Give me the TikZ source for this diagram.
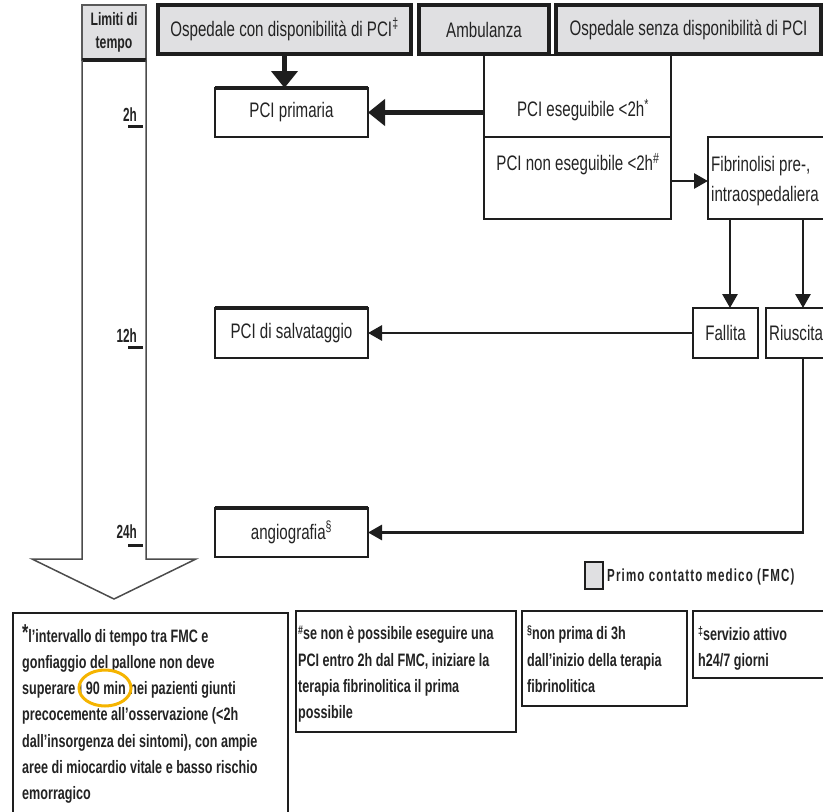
\documentclass[tikz,border=0pt]{standalone}
\usepackage{fontspec}
\setmainfont{Liberation Sans}
\newfontfamily\cnd{Liberation Sans}[FakeStretch=0.72]
\newfontfamily\cndb{Liberation Sans}[FakeStretch=0.70]
\newfontfamily\cndh{Liberation Sans}[FakeStretch=0.68]
\newfontfamily\cndn{Liberation Sans}[FakeStretch=0.62]
\newfontfamily\cndbs{Liberation Sans}[FakeStretch=0.66,LetterSpace=6.5]
\usetikzlibrary{arrows.meta}
\definecolor{boxgray}{RGB}{224,224,226}
\definecolor{linec}{RGB}{30,30,30}
\definecolor{ringc}{RGB}{245,180,0}
\definecolor{txtc}{RGB}{35,35,35}
\newcommand{\fnsup}[1]{\raisebox{5pt}{\fontsize{12.5}{12.5}\selectfont #1}}
\begin{document}
\begin{tikzpicture}[x=1pt,y=-1pt,
  box/.style={draw=linec, line width=2.6pt, inner sep=0pt, outer sep=0pt, text=txtc,
    font=\cnd\fontsize{21}{22}\selectfont},
  fmc/.style={box, fill=boxgray, line width=3.2pt},
  plain/.style={draw=linec, line width=2.6pt, inner sep=0pt, outer sep=0pt},
  txt/.style={inner sep=0pt, text=txtc, font=\cnd\fontsize{21}{30}\selectfont},
  fntext/.style={inner sep=0pt, anchor=north west, align=left, text=txtc,
    font=\cndb\bfseries\fontsize{18}{26.3}\selectfont},
  timelbl/.style={inner sep=0pt, anchor=base east, text=txtc, font=\cndn\bfseries\fontsize{19}{19}\selectfont},
  tickln/.style={line width=3pt, draw=linec},
  bigarrow/.style={draw=linec, line width=5pt, -{Triangle[length=17pt,width=26pt]}},
  arr/.style={draw=linec, line width=2.8pt, -{Triangle[length=14pt,width=15pt]}},
  topline/.style={line width=4pt, draw=linec}
]
\useasboundingbox (0,0) rectangle (823,812);
\clip (0,0) rectangle (823,812);

% time column
\node[fmc, line width=1.5pt, draw=gray!70!black, minimum width=64pt, minimum height=55pt, align=center,
  font=\cndh\bfseries\fontsize{18}{23}\selectfont] (hdr) at (114,32.5) {Limiti di\\tempo};
\draw[line width=4pt, draw=linec] (hdr.south west) -- (hdr.south east);
\coordinate (apex) at (114,599);
\draw[line width=1.5pt, draw=gray!60!black, line join=miter]
  (hdr.south west) -- (82,559) -- (32,559) -- (apex) -- (196,559) -- (146,559) -- (hdr.south east);

\node[timelbl] (t2) at (137,121) {2h};
\draw[tickln] (128,126) -- (143,126);
\node[timelbl] (t12) at (137,342) {12h};
\draw[tickln] (128,347) -- (143,347);
\node[timelbl] (t24) at (137,538) {24h};
\draw[tickln] (128,545) -- (143,545);

% top FMC boxes
\node[fmc, minimum width=253pt, minimum height=49pt] (osp1) at (284.5,29.5) {Ospedale con disponibilità di PCI\textsuperscript{‡}};
\node[fmc, minimum width=130pt, minimum height=49pt] (amb) at (484,29.5) {Ambulanza};
\node[fmc, minimum width=265pt, minimum height=49pt] (osp2) at (688.5,29.5) {Ospedale senza disponibilità di PCI};

% result boxes
\node[box, minimum width=153pt, minimum height=49pt] (pcip) at (291.5,112.5) {PCI primaria};
\draw[topline] (pcip.north west) -- (pcip.north east);
\node[box, minimum width=153pt, minimum height=50pt] (pcis) at (291.5,333) {PCI di salvataggio};
\draw[topline] (pcis.north west) -- (pcis.north east);
\node[box, minimum width=153pt, minimum height=49pt] (angio) at (291.5,532.5) {angiografia\textsuperscript{§}};
\draw[topline] (angio.north west) -- (angio.north east);

% decision box
\node[plain, minimum width=187pt, minimum height=82pt] (pcie) at (577.5,96) {};
\node[plain, minimum width=187pt, minimum height=82pt] (pcine) at (577.5,178) {};
\node[txt] (pciet) at (583,110) {PCI eseguibile <2h\textsuperscript{*}};
\node[txt] (pcinet) at (578,164) {PCI non eseguibile <2h\textsuperscript{\#}};

% fibrinolysis
\node[plain, minimum width=132pt, minimum height=82pt] (fib) at (774,178) {};
\node[txt, anchor=west, align=left] (fibt) at (711,181) {Fibrinolisi pre-,\\intraospedaliera};

\node[box, minimum width=65pt, minimum height=50pt] (fal) at (725.5,333) {Fallita};
\node[plain, minimum width=74pt, minimum height=50pt] (riu) at (803,333) {};
\node[txt, anchor=west] (riut) at (769,333) {Riuscita};

% connectors
\draw[bigarrow] (osp1.south) -- (osp1.south |- pcip.north);
\draw[bigarrow] (pcie.west |- pcip.east) -- (pcip.east);
\draw[arr] (pcine.east |- fibt.west) -- (fibt.west -| fib.west);
\draw[arr] (730,219) -- (730,308);
\draw[arr] (riu.north |- fib.south) -- (riu.north);
\draw[arr] (fal.west) -- (pcis.east);
\draw[arr] (riu.south) |- (angio.east);

% legend
\node[fmc, line width=2.6pt, minimum width=18pt, minimum height=27pt] (leg) at (594,575.5) {};
\node[inner sep=0pt, anchor=west, text=txtc, font=\cndbs\bfseries\fontsize{17.5}{17.5}\selectfont] (legt) at (607,577) {Primo contatto medico (FMC)};

% footnotes
\node[plain, minimum width=275pt, minimum height=220pt] (fn1) at (150.5,723) {};
\node[fntext] (fn1t) at (22,624) {\raisebox{2pt}{\fontsize{23}{23}\selectfont *}l’intervallo di tempo tra FMC e\\
gonfiaggio del pallone non deve\\
superare i 90 min nei pazienti giunti\\
precocemente all’osservazione (<2h\\
dall’insorgenza dei sintomi), con ampie\\
aree di miocardio vitale e basso rischio\\
emorragico};
\draw[ringc, line width=3pt] (105,688) ellipse [x radius=26, y radius=18];

\node[plain, minimum width=220pt, minimum height=121pt] (fn2) at (406,671.5) {};
\node[fntext] (fn2t) at (298,626) {\fnsup{\#}se non è possibile eseguire una\\
PCI entro 2h dal FMC, iniziare la\\
terapia fibrinolitica il prima\\
possibile};

\node[plain, minimum width=165pt, minimum height=95pt] (fn3) at (604.5,658.5) {};
\node[fntext] (fn3t) at (527,626) {\fnsup{§}non prima di 3h\\
dall’inizio della terapia\\
fibrinolitica};

\node[plain, minimum width=150pt, minimum height=67pt] (fn4) at (768,644.5) {};
\node[fntext] (fn4t) at (698,626) {\fnsup{‡}servizio attivo\\
h24/7 giorni};
\end{tikzpicture}
\end{document}
